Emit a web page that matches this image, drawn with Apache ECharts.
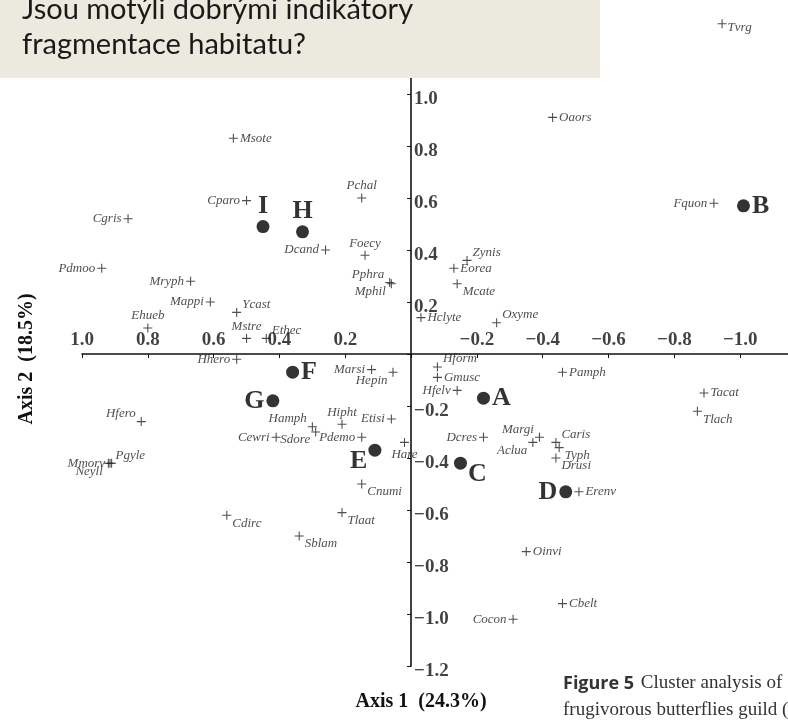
<!DOCTYPE html>
<html>
<head>
<meta charset="utf-8">
<title>Ordination</title>
<script src="https://cdn.jsdelivr.net/npm/echarts@6/dist/echarts.min.js"></script>
<style>
  html, body { margin: 0; padding: 0; background: #fff; }
  #main { width: 788px; height: 721px; }
</style>
</head>
<body>
<div id="main"></div>
<script>
// species (crosses)
var species = ['Tvrg','Msote','Oaors','Cparo','Pchal','Fquon','Cgris','Dcand','Foecy','Zynis',
  'Eorea','Pdmoo','Mryph','Pphra','Mphil','Mcate','Mappi','Ycast','Ehueb','Hclyte',
  'Oxyme','Mstre','Ethec','Hhero','Marsi','Hepin','Hform','Gmusc','Pamph','Hfelv',
  'Tacat','Tlach','Hfero','Hamph','Hipht','Etisi','Cewri','Sdore','Pdemo','Hare',
  'Dcres','Margi','Aclua','Caris','Typh','Drusi','Pgyle','Mmorv','Neyll','Erenv',
  'Cnumi','Cdirc','Tlaat','Sblam','Oinvi','Cbelt','Cocon'];
var speciesX = [-0.945, 0.54, -0.43, 0.50, 0.15, -0.92, 0.86, 0.26, 0.14, -0.17,
  -0.13, 0.94, 0.67, 0.065, 0.06, -0.14, 0.61, 0.53, 0.80, -0.03,
  -0.26, 0.50, 0.44, 0.53, 0.12, 0.055, -0.08, -0.08, -0.46, -0.14,
  -0.89, -0.87, 0.82, 0.30, 0.21, 0.06, 0.41, 0.29, 0.15, 0.02,
  -0.22, -0.39, -0.37, -0.44, -0.45, -0.44, 0.915, 0.91, 0.92, -0.51,
  0.15, 0.56, 0.21, 0.34, -0.35, -0.46, -0.31];
var speciesY = [1.27, 0.83, 0.91, 0.59, 0.60, 0.58, 0.52, 0.40, 0.38, 0.36,
  0.33, 0.33, 0.28, 0.275, 0.27, 0.27, 0.20, 0.16, 0.10, 0.14,
  0.12, 0.06, 0.06, -0.02, -0.06, -0.07, -0.05, -0.09, -0.07, -0.14,
  -0.15, -0.22, -0.26, -0.28, -0.27, -0.25, -0.32, -0.30, -0.32, -0.34,
  -0.32, -0.32, -0.34, -0.34, -0.36, -0.40, -0.42, -0.42, -0.42, -0.53,
  -0.50, -0.62, -0.61, -0.70, -0.76, -0.96, -1.02];

// cluster centroids (dots)
var clusters = ['A','B','C','D','E','F','G','H','I'];
var clusterX = [-0.22, -1.01, -0.15, -0.47, 0.11, 0.36, 0.42, 0.33, 0.45];
var clusterY = [-0.17, 0.57, -0.42, -0.53, -0.37, -0.07, -0.18, 0.47, 0.49];

// axis tick labels
var xTicks = [1.0, 0.8, 0.6, 0.4, 0.2, -0.2, -0.4, -0.6, -0.8, -1.0];
var yTicks = [1.0, 0.8, 0.6, 0.4, 0.2, -0.2, -0.4, -0.6, -0.8, -1.0, -1.2];

// label placement
var place = {
  Tvrg:'sub', Msote:'right', Oaors:'right', Cparo:'left', Pchal:'top', Fquon:'left',
  Cgris:'left', Dcand:'left', Foecy:'top', Zynis:'tr', Eorea:'right', Pdmoo:'left',
  Mryph:'left', Pphra:'tl', Mphil:'bl', Mcate:'br', Mappi:'left', Ycast:'tr',
  Ehueb:'top', Hclyte:'right', Oxyme:'tr', Mstre:'top', Ethec:'tr', Hhero:'left',
  Marsi:'left', Hepin:'bl', Hform:'tr', Gmusc:'right', Pamph:'right', Hfelv:'left',
  Tacat:'right', Tlach:'br', Hfero:'tl', Hamph:'tl', Hipht:'top', Etisi:'left',
  Cewri:'left', Sdore:'bl', Pdemo:'left', Hare:'bottom', Dcres:'left', Margi:'tl',
  Aclua:'bl', Caris:'tr', Typh:'br', Drusi:'br', Pgyle:'tr', Mmorv:'left',
  Neyll:'bl', Erenv:'right', Cnumi:'br', Cdirc:'br', Tlaat:'br', Sblam:'br',
  Oinvi:'right', Cbelt:'right', Cocon:'left',
  A:'right', B:'right', C:'br', D:'left', E:'bl', F:'right', G:'left', H:'top', I:'top'
};
function labelFor(p, d) {
  switch (p) {
    case 'tr': return { position: 'right', distance: 1, offset: [0, -8 * d] };
    case 'br': return { position: 'right', distance: 1, offset: [0, 8 * d] };
    case 'tl': return { position: 'left', distance: 1, offset: [0, -8 * d] };
    case 'bl': return { position: 'left', distance: 1, offset: [0, 8 * d] };
    case 'sub': return { position: 'right', distance: 1, offset: [0, 4] };
    case 'top': return { position: 'top', distance: 1 };
    case 'bottom': return { position: 'bottom', distance: 1 };
    default: return { position: p, distance: 2 };
  }
}

function fmt(v) {
  var s = Math.abs(v).toFixed(1);
  return v < 0 ? '\u2212' + s : s;
}

var chart = echarts.init(document.getElementById('main'), null, { renderer: 'canvas' });

var spData = species.map(function (n, i) {
  return { name: n, value: [speciesX[i], speciesY[i]], label: labelFor(place[n], 1) };
});
var clData = clusters.map(function (n, i) {
  return { name: n, value: [clusterX[i], clusterY[i]], label: labelFor(place[n], 1.4) };
});
var tickFont = { color: '#111', fontFamily: 'Liberation Serif', fontWeight: 'bold', fontSize: 19 };

var option = {
  animation: false,
  backgroundColor: '#ffffff',
  grid: { left: 82, width: 724, top: -10, height: 676, outerBoundsMode: 'none', containLabel: false },
  xAxis: {
    type: 'value', inverse: true, min: -1.2, max: 1.0, interval: 0.2,
    axisLine: { onZero: true, lineStyle: { color: '#111', width: 1.6 } },
    axisTick: { show: true, length: 4, lineStyle: { color: '#111' } },
    axisLabel: { show: false },
    splitLine: { show: false }
  },
  yAxis: {
    type: 'value', min: -1.2, max: 1.4, interval: 0.2,
    axisLine: { onZero: true, lineStyle: { color: '#111', width: 1.6 } },
    axisTick: { show: true, length: 4, lineStyle: { color: '#111' } },
    axisLabel: { show: false },
    splitLine: { show: false }
  },
  series: [
    {
      name: 'xticks', type: 'scatter', silent: true, symbolSize: 0,
      label: Object.assign({ show: true, position: 'top', distance: 4,
        formatter: function (p) { return fmt(p.value[0]); } }, tickFont),
      data: xTicks.map(function (t) { return [t, 0]; })
    },
    {
      name: 'yticks', type: 'scatter', silent: true, symbolSize: 0,
      label: Object.assign({ show: true, position: 'right', distance: 3, offset: [0, 5],
        formatter: function (p) { return fmt(p.value[1]); } }, tickFont),
      data: yTicks.map(function (t) { return [0, t]; })
    },
    {
      name: 'species', type: 'scatter',
      symbol: 'path://M0,4.4H10V5.6H0Z M4.4,0H5.6V10H4.4Z',
      symbolSize: 9,
      itemStyle: { color: '#222' },
      label: {
        show: true, formatter: '{b}', color: '#222',
        fontFamily: 'Liberation Serif', fontStyle: 'italic', fontSize: 13
      },
      data: spData
    },
    {
      name: 'clusters', type: 'scatter', symbol: 'circle', symbolSize: 13,
      itemStyle: { color: '#000' },
      label: {
        show: true, formatter: '{b}', color: '#000',
        fontFamily: 'Liberation Serif', fontWeight: 'bold', fontSize: 26
      },
      data: clData
    }
  ],
  graphic: [
    { type: 'rect', z: 100, shape: { x: 0, y: 0, width: 600, height: 78 }, style: { fill: '#ECE9DF' } },
    { type: 'text', z: 101, x: 22, y: 10,
      style: { text: 'Jsou motýli dobrými indikátory', font: '29px Lato', fill: '#1a1a1a', verticalAlign: 'middle' } },
    { type: 'text', z: 101, x: 22, y: 45,
      style: { text: 'fragmentace habitatu?', font: '29px Lato', fill: '#1a1a1a', verticalAlign: 'middle' } },
    { type: 'text', z: 101, x: 421, y: 702,
      style: { text: 'Axis 1  (24.3%)', font: 'bold 20px "Liberation Serif"', fill: '#111', align: 'center', verticalAlign: 'middle' } },
    { type: 'text', z: 101, x: 27, y: 359, rotation: Math.PI / 2,
      style: { text: 'Axis 2  (18.5%)', font: 'bold 20px "Liberation Serif"', fill: '#111', align: 'center', verticalAlign: 'middle' } },
    { type: 'text', z: 101, x: 563, y: 670,
      style: {
        text: '{a|Figure 5}  {b|Cluster analysis of}\n{b|frugivorous butterflies guild (}',
        rich: {
          a: { fontFamily: 'Open Sans', fontWeight: 'bold', fontSize: 18, fill: '#333', lineHeight: 27 },
          b: { fontFamily: 'Liberation Serif', fontSize: 19, fill: '#333', lineHeight: 27 }
        }
      } }
  ]
};
chart.setOption(option);
</script>
</body>
</html>
